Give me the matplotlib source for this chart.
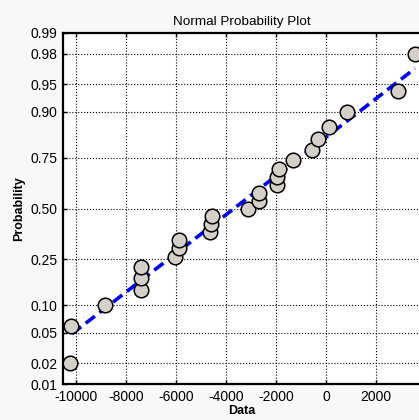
import numpy as np
import matplotlib
matplotlib.use('Agg')
import matplotlib.pyplot as plt
from statistics import NormalDist

matplotlib.rcParams.update({'font.family': 'Liberation Sans', 'axes.unicode_minus': False})

# sorted data values
data = [-10240, -10200, -8840, -7400, -7400, -7400, -6040, -5880, -5880,
        -4640, -4600, -4560, -3120, -2680, -2680, -1960, -1960, -1880,
        -1320, -560, -320, 120, 840, 2880, 3560]
# plotting positions of each point
prob = [0.02, 0.06, 0.10, 0.14, 0.18, 0.22, 0.26, 0.30, 0.34, 0.38, 0.42,
        0.46, 0.50, 0.54, 0.58, 0.62, 0.66, 0.70, 0.74, 0.78, 0.82, 0.86,
        0.90, 0.94, 0.98]
# reference line (normal fit)
fit_mu = -3680
fit_sigma = 3900
ytick_p = [0.01, 0.02, 0.05, 0.10, 0.25, 0.50, 0.75, 0.90, 0.95, 0.98, 0.99]
ytick_lab = ['0.01', '0.02', '0.05', '0.10', '0.25', '0.50', '0.75', '0.90', '0.95', '0.98', '0.99']
xticks = [-10000, -8000, -6000, -4000, -2000, 0, 2000]

nd = NormalDist()
z = [nd.inv_cdf(p) for p in prob]
x = np.array(data, dtype=float)
xl = np.array([-10160, x.max()])
zl = (xl - fit_mu) / fit_sigma

fig = plt.figure(figsize=(4.19, 4.20), dpi=100, facecolor='#f8f8f8')
ax = fig.add_axes([63/419., 36/420., 357/419., 351/420.])
ax.set_facecolor('white')

ax.plot(xl, zl, color='#0000ff', lw=2.6, ls=(0, (3.2, 1.6)), zorder=2)
ax.plot(x, z, 'o', ms=10.5, mfc='#d4d0c8', mec='black', mew=1.1, zorder=3)

ax.set_xlim(-10520, 3760)
ax.set_ylim(nd.inv_cdf(0.01), nd.inv_cdf(0.99))
ax.set_xticks(xticks)
ax.set_xticklabels([str(t) for t in xticks])
ax.set_yticks([nd.inv_cdf(p) for p in ytick_p])
ax.set_yticklabels(ytick_lab)

ax.grid(True, color='black', ls=':', lw=0.8)
ax.tick_params(direction='in', length=3, width=1, top=True, labelsize=10, pad=4)
for s in ['top', 'left', 'bottom']:
    ax.spines[s].set_linewidth(1.6)
ax.spines['right'].set_visible(False)

ax.set_title('Normal Probability Plot', fontsize=9.7, pad=6)
ax.set_xlabel('Data', fontsize=9, fontweight='bold', labelpad=1)
ax.set_ylabel('Probability', fontsize=9, fontweight='bold', labelpad=4)

plt.savefig('out.png', dpi=100, facecolor=fig.get_facecolor())
